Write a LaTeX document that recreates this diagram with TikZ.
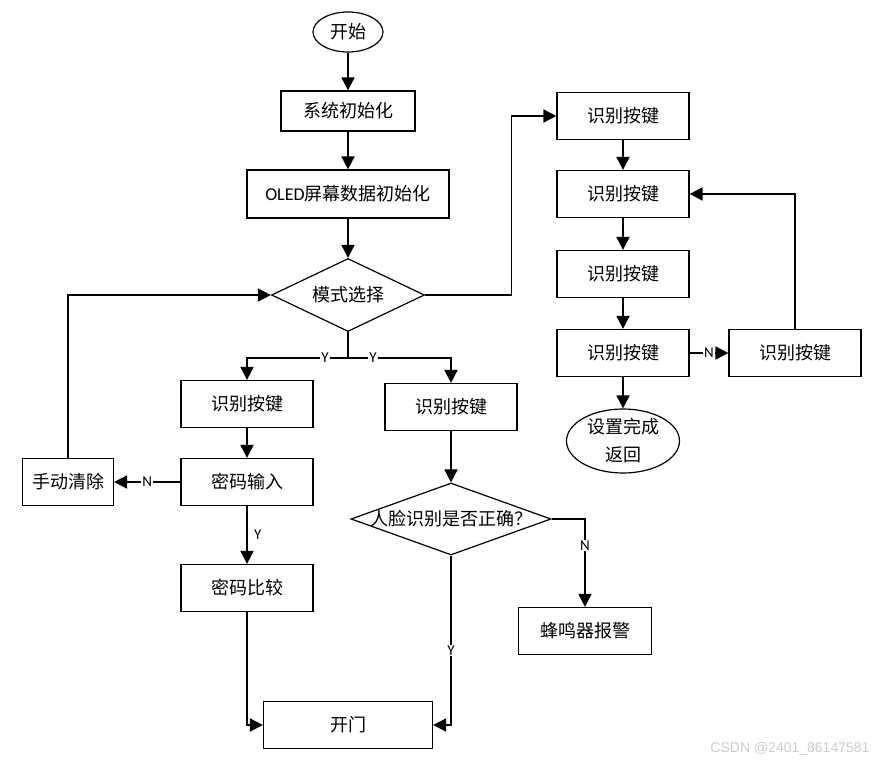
\documentclass[tikz,border=0pt]{standalone}
\usepackage{fontspec}
\setmainfont{Carlito}
\newfontfamily\cjk{Noto Sans CJK SC}
\newfontfamily\wm{Liberation Sans}
\usetikzlibrary{arrows.meta,shapes.geometric}
\tikzstyle{arr}=[-{Triangle[length=13pt,width=13pt]},line width=1.8pt]
\tikzstyle{line}=[line width=1.8pt]
\tikzstyle{boxdraw}=[draw,line width=1.2pt,minimum width=132pt,minimum height=47pt,
  inner sep=0pt,font=\cjk\fontsize{18}{28}\selectfont]
\tikzstyle{term}=[boxdraw,ellipse,minimum width=70pt,minimum height=40pt]
\tikzstyle{choice}=[boxdraw,diamond,aspect=2,minimum width=153pt,minimum height=73pt]
\tikzstyle{yn}=[fill=white,inner sep=1pt,font=\fontsize{15}{17}\selectfont]

\begin{document}
\begin{tikzpicture}[x=1pt,y=-1pt]
  \useasboundingbox (0,0) rectangle (877,765);

  % main column
  \node[term] (start) at (348,32) {开始};
  \node[boxdraw,minimum width=134pt,minimum height=40pt] (sysinit) at (348,111) {系统初始化};
  \node[boxdraw,minimum width=202pt,minimum height=48pt] (oled) at (348,194) {{\rmfamily OLED}屏幕数据初始化};
  \node[choice] (mode) at (348,295) {模式选择};

  % password branch
  \node[boxdraw] (pkey) at (247,404) {识别按键};
  \node[boxdraw] (pin) at (247,482) {密码输入};
  \node[boxdraw,minimum width=91pt] (clear) at (68,482) {手动清除};
  \node[boxdraw] (pcmp) at (247,588) {密码比较};
  \node[boxdraw,minimum width=169pt] (door) at (348,725) {开门};

  % face branch
  \node[boxdraw] (fkey) at (451,407) {识别按键};
  \node[choice,minimum width=200pt,minimum height=72pt] (face) at (451,519) {\makebox[0pt]{人脸识别是否正确？}};
  \node[boxdraw,minimum width=133pt] (buzz) at (585,631) {蜂鸣器报警};

  % key setting column
  \foreach \n/\y in {1/116, 2/194, 3/274, 4/353}
    \node[boxdraw] (key\n) at (623,\y) {识别按键};
  \node[boxdraw] (key5) at (795,353) {识别按键};
  \node[term,minimum width=113pt,minimum height=64pt,align=center] (done) at (623,441) {设置完成\\返回};

  \foreach \a/\b in {start/sysinit, sysinit/oled, oled/mode, pkey/pin, fkey/face,
                     key1/key2, key2/key3, key3/key4, key4/done}
    \draw[arr] (\a) -- (\b);

  \draw[arr] (mode.east) -| ([xshift=-45pt]key1.west) -- (key1.west);
  \draw[line] (mode.south) -- ++(0,26) coordinate (fork);
  \draw[arr] (fork) -| (pkey.north);
  \draw[arr] (fork) -| (fkey.north);
  \node[yn] (y1) at ([xshift=-23pt]fork) {Y};
  \node[yn] (y2) at ([xshift=25pt]fork) {Y};

  \draw[arr] (pin) -- node[yn] (n1) {N} (clear);
  \draw[arr] (clear.north) |- (mode.west);
  \draw[arr] (pin) -- node[right=3pt,font=\fontsize{15}{17}\selectfont] (y3) {Y} (pcmp);
  \draw[arr] (pcmp.south) |- (door.west);

  \draw[arr] (face.east) -| node[yn,pos=0.65] (n2) {N} (buzz.north);
  \draw[arr] (face.south) |- node[yn,pos=0.28] (y4) {Y} (door.east);

  \draw[arr] (key4) -- node[yn] (n3) {N} (key5);
  \draw[arr] (key5.north) |- (key2.east);

  \node[anchor=east,text=black!20,font=\wm\fontsize{14}{16}\selectfont] (mark) at (873,749) {CSDN @2401\_86147581};
\end{tikzpicture}
\end{document}
